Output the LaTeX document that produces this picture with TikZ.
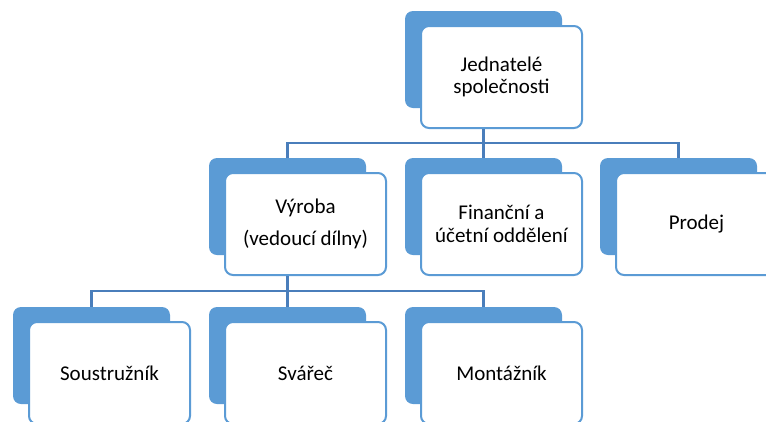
\documentclass[tikz,border=0pt]{standalone}
\usepackage{fontspec}
\setmainfont{Carlito}
\usetikzlibrary{positioning}

\definecolor{orgblue}{HTML}{5B9BD5}
\definecolor{orgline}{HTML}{4A7EBB}

\tikzstyle{backbox} = [rectangle, rounded corners=8pt, minimum width=157pt, minimum height=97pt, fill=orgblue, draw=none]
\tikzstyle{frontbox} = [rectangle, rounded corners=8pt, minimum width=161pt, minimum height=102pt, align=center, draw=orgblue, line width=2pt, fill=white, font=\fontsize{21}{22.5}\selectfont]
\tikzstyle{link} = [draw=orgline, line width=2.2pt]

\begin{document}
\begin{tikzpicture}[x=1pt, y=-1pt]
\useasboundingbox (0,0) rectangle (766,421);
\clip (0,0) rectangle (766,421);

% top level
\node (jednb) [backbox] at (483.5,59.5) {};
\node (jedn) [frontbox] at (501.5,77) {Jednatelé\\společnosti};

% second level
\node (vyrobab) [backbox] at (287.5,206.5) {};
\node (vyroba) [frontbox] at (305.5,224) {Výroba\\[9.5pt](vedoucí dílny)};
\node (financeb) [backbox] at (483.5,206.5) {};
\node (finance) [frontbox] at (501.5,224) {Finanční a\\účetní oddělení};
\node (prodejb) [backbox] at (678.5,206.5) {};
\node (prodej) [frontbox] at (696.5,224) {Prodej};

% third level
\node (soustrb) [backbox] at (91.5,355.5) {};
\node (soustr) [frontbox] at (109.5,373) {Soustružník};
\node (svarecb) [backbox] at (287.5,355.5) {};
\node (svarec) [frontbox] at (305.5,373) {Svářeč};
\node (montazb) [backbox] at (483.5,355.5) {};
\node (montaz) [frontbox] at (501.5,373) {Montážník};

\coordinate (busa) at (0,143);
\coordinate (busb) at (0,291);

\draw [link] (jednb |- jedn.south) -- (jednb |- busa) -| (vyrobab.north);
\draw [link] (jednb |- busa) -- (financeb.north);
\draw [link] (jednb |- busa) -| (prodejb.north);

\draw [link] (vyrobab |- vyroba.south) -- (vyrobab |- busb) -| (soustrb.north);
\draw [link] (vyrobab |- busb) -- (svarecb.north);
\draw [link] (vyrobab |- busb) -| (montazb.north);

\end{tikzpicture}
\end{document}
